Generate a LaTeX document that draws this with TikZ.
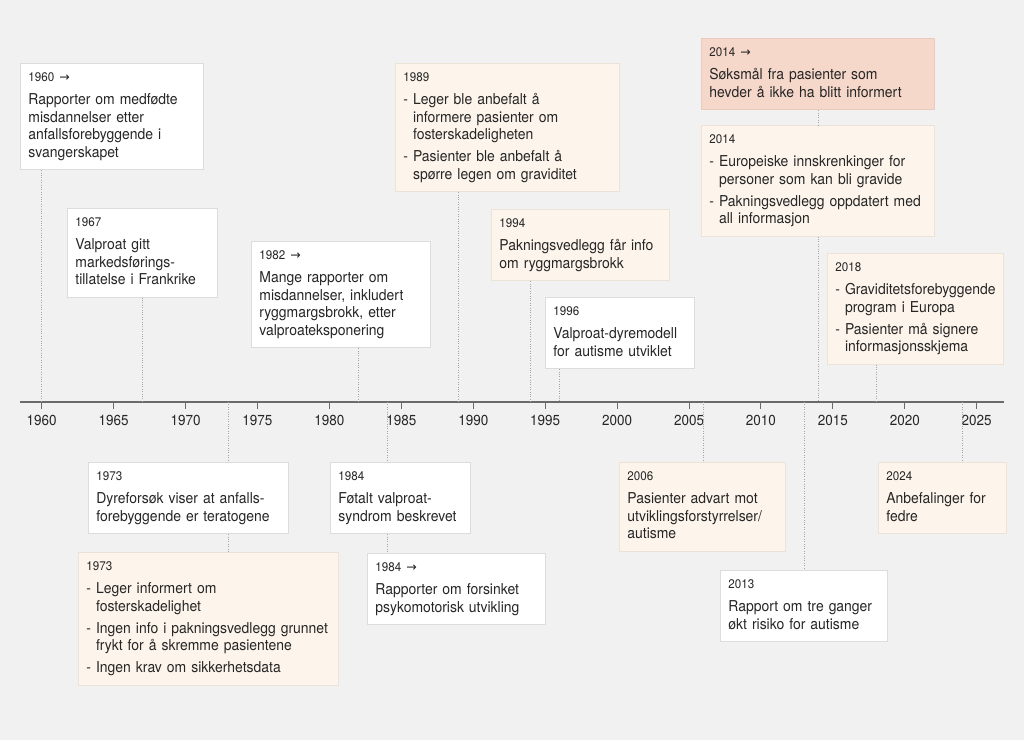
\documentclass[tikz,border=0pt]{standalone}
\usepackage{fontspec}
\setmainfont{TeX Gyre Heros}[FakeStretch=0.93]
\newfontfamily\arrowfont{DejaVu Sans}
\usepackage{tikz}
\usetikzlibrary{calc}

\definecolor{bgcol}{HTML}{F2F1F2}
\definecolor{boxline}{HTML}{DEDCDA}
\definecolor{cream}{HTML}{FDF5EC}
\definecolor{creamline}{HTML}{ECE2D6}
\definecolor{salmon}{HTML}{F6D8CB}
\definecolor{salmonline}{HTML}{EACABD}
\definecolor{ink}{HTML}{262626}
\definecolor{dotgray}{HTML}{A6A6A6}
\definecolor{axisgray}{HTML}{6A6A6A}

\setlength{\parindent}{0pt}
\setlength{\parskip}{0pt}
\hyphenpenalty=10000
\exhyphenpenalty=10000
\hfuzz=20pt
\newlength{\dashw}
\newcommand{\bodyfont}{\fontsize{15}{17.5}\selectfont}
\newcommand{\yrfont}{\fontsize{12.5}{14}\selectfont}
\newcommand{\dstrut}{\rule[-4.5pt]{0pt}{4.5pt}}
\newcommand{\yr}[1]{{\yrfont\strut #1\par}\vspace{6pt}}
\newcommand{\arr}{~{\arrowfont\fontsize{12.5}{14}\selectfont →}}
\newcommand{\li}[1]{\par\settowidth{\dashw}{-~}\leavevmode\hangindent=\dashw\hangafter=1 -~#1\dstrut\par}
\newcommand{\gap}{\vspace{4.5pt}}

\tikzset{
  evbox/.style={draw=boxline, fill=white, line width=0.8pt, anchor=north west,
    align=left, inner xsep=8pt, inner ysep=8pt, font=\bodyfont, text=ink,
    execute at end node={\ifhmode\dstrut\fi}},
  evcream/.style={evbox, fill=cream, draw=creamline},
  evsalmon/.style={evbox, fill=salmon, draw=salmonline},
  dotline/.style={draw=dotgray, line width=0.8pt, dash pattern=on 0.8pt off 1.6pt},
  axisline/.style={draw=axisgray, line width=1.2pt},
  ticklabel/.style={font=\fontsize{14.5}{16}\selectfont, text=ink, inner sep=0pt}
}

\begin{document}
\begin{tikzpicture}[x=1pt, y=-1pt]
    % --- background and axis ---
    \fill[bgcol] (0,0) rectangle (1024,740);
    \draw[axisline] (20,402) -- (1004,402);
    \foreach \yy in {1960,1965,...,2025}{
        \draw[axisline, line width=1pt] ({41.7+(\yy-1960)*14.385},402) -- ++(0,7);
        \node[ticklabel] (lab\yy) at ({41.7+(\yy-1960)*14.385},420) {\yy};
    }
    \foreach \yy in {1960,1967,1973,1982,1984,1989,1994,1996,2006,2013,2014,2018,2024}
        \coordinate (t\yy) at ({41.7+(\yy-1960)*14.385},402);

    % --- events above the axis ---
    \node[evbox, text width=167pt] (ev1960) at (20,63)
        {\yr{1960\arr}Rapporter om medfødte\\misdannelser etter\\anfallsforebyggende i\\svangerskapet};
    \node[evbox, text width=134pt] (ev1967) at (67,208)
        {\yr{1967}Valproat gitt\\markedsførings-\\tillatelse i Frankrike};
    \node[evbox, text width=163pt] (ev1982) at (251,241)
        {\yr{1982\arr}Mange rapporter om\\misdannelser, inkludert\\ryggmargsbrokk, etter\\valproateksponering};
    \node[evcream, text width=208pt] (ev1989) at (395,63)
        {\yr{1989}\li{Leger ble anbefalt å\newline informere pasienter om\newline fosterskadeligheten}\gap
         \li{Pasienter ble anbefalt å\newline spørre legen om graviditet}};
    \node[evcream, text width=162pt] (ev1994) at (491,209)
        {\yr{1994}Pakningsvedlegg får info\\om ryggmargsbrokk};
    \node[evbox, text width=133pt] (ev1996) at (545,297)
        {\yr{1996}Valproat-dyremodell\\for autisme utviklet};
    \node[evsalmon, text width=217pt] (ev2014a) at (701,38)
        {\yr{2014\arr}Søksmål fra pasienter som\\hevder å ikke ha blitt informert};
    \node[evcream, text width=217pt] (ev2014b) at (701,125)
        {\yr{2014}\li{Europeiske innskrenkinger for\newline personer som kan bli gravide}\gap
         \li{Pakningsvedlegg oppdatert med\newline all informasjon}};
    \node[evcream, text width=160pt] (ev2018) at (827,253)
        {\yr{2018}\li{Graviditetsforebyggende\newline program i Europa}\gap
         \li{Pasienter må signere\newline informasjonsskjema}};

    % --- events below the axis ---
    \node[evbox, text width=184pt] (ev1973a) at (88,462)
        {\yr{1973}Dyreforsøk viser at anfalls-\\forebyggende er teratogene};
    \node[evcream, text width=244pt] (ev1973b) at (78,552)
        {\yr{1973}\li{Leger informert om\newline fosterskadelighet}\gap
         \li{Ingen info i pakningsvedlegg grunnet\newline frykt for å skremme pasientene}\gap
         \li{Ingen krav om sikkerhetsdata}};
    \node[evbox, text width=124pt] (ev1984a) at (330,462)
        {\yr{1984}Føtalt valproat-\\syndrom beskrevet};
    \node[evbox, text width=162pt] (ev1984b) at (367,553)
        {\yr{1984\arr}Rapporter om forsinket\\psykomotorisk utvikling};
    \node[evcream, text width=150pt] (ev2006) at (619,462)
        {\yr{2006}Pasienter advart mot\\utviklingsforstyrrelser/\\autisme};
    \node[evbox, text width=151pt] (ev2013) at (720,570)
        {\yr{2013}Rapport om tre ganger\\økt risiko for autisme};
    \node[evcream, text width=112pt] (ev2024) at (878,462)
        {\yr{2024}Anbefalinger for\\fedre};

    % --- dotted leaders to the axis ---
    \draw[dotline] (ev1960.south -| t1960) -- (t1960);
    \draw[dotline] (ev1967.south -| t1967) -- (t1967);
    \draw[dotline] (ev1982.south -| t1982) -- (t1982);
    \draw[dotline] (ev1989.south -| t1989) -- (t1989);
    \draw[dotline] (ev1994.south -| t1994) -- (t1994);
    \draw[dotline] (ev1996.south -| t1996) -- (t1996);
    \draw[dotline] (ev2014a.south -| t2014) -- (ev2014b.north -| t2014);
    \draw[dotline] (ev2014b.south -| t2014) -- (t2014);
    \draw[dotline] (ev2018.south -| t2018) -- (t2018);
    \draw[dotline] (t1973) -- (ev1973a.north -| t1973);
    \draw[dotline] (ev1973a.south -| t1973) -- (ev1973b.north -| t1973);
    \draw[dotline] (t1984) -- (ev1984a.north -| t1984);
    \draw[dotline] (ev1984a.south -| t1984) -- (ev1984b.north -| t1984);
    \draw[dotline] (t2006) -- (ev2006.north -| t2006);
    \draw[dotline] (t2013) -- (ev2013.north -| t2013);
    \draw[dotline] (t2024) -- (ev2024.north -| t2024);
\end{tikzpicture}
\end{document}
